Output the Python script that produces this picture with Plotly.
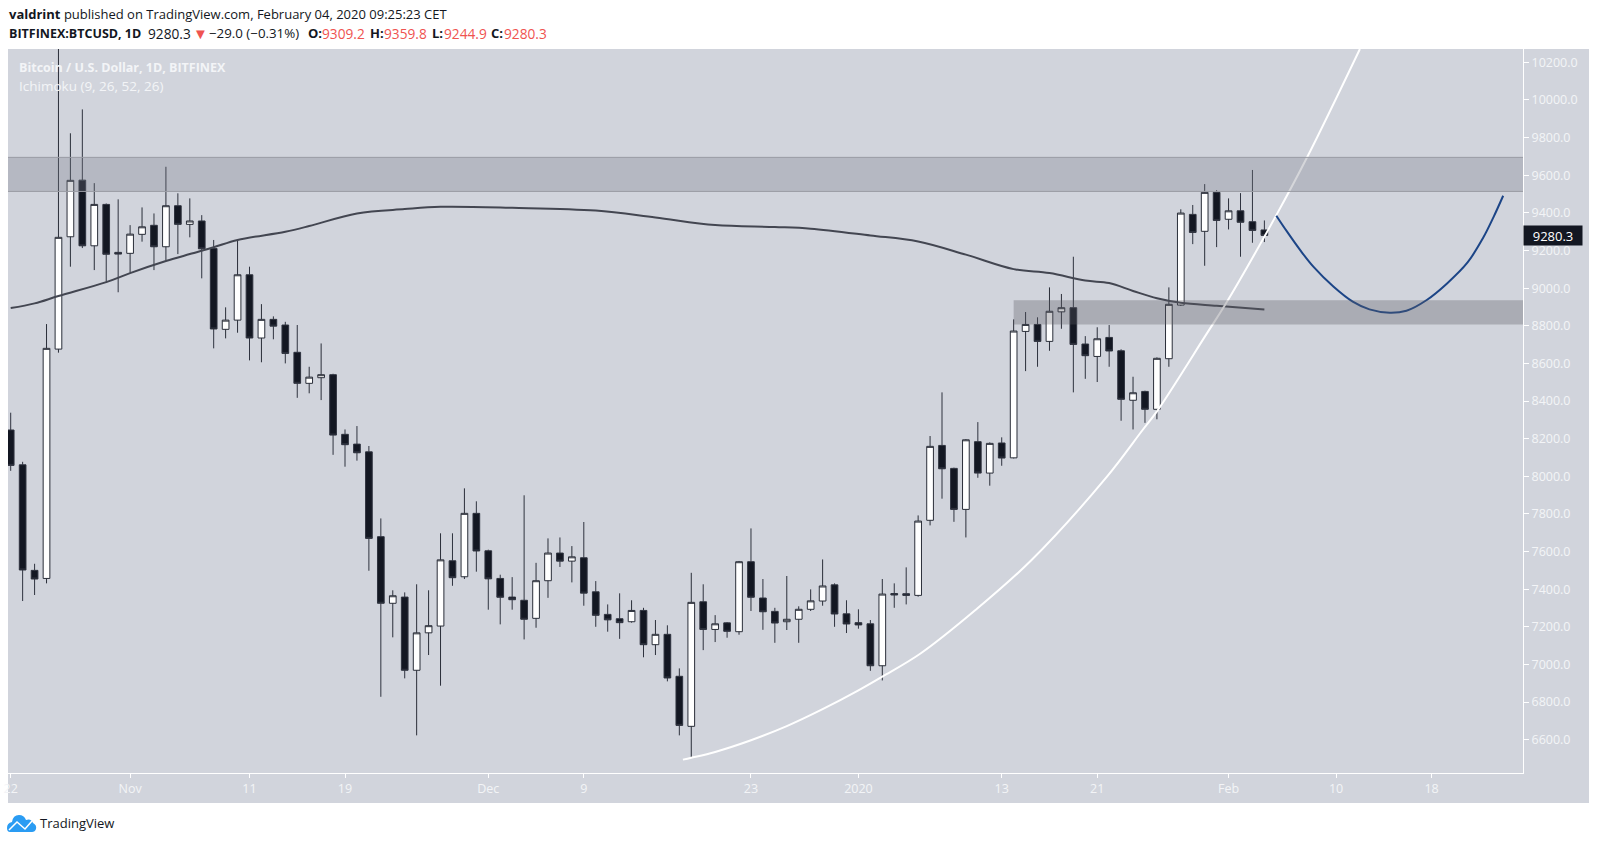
import plotly.graph_objects as go

# candles, one per day from 22 Oct 2019
opens = [8246, 8061, 7500, 7457, 8676, 9273, 9574, 9225, 9445, 9190, 9185, 9286, 9334, 9220, 9438, 9339, 9357, 9211,
         8781, 8830, 9071, 8735, 8834, 8804, 8659, 8494, 8524, 8540, 8223, 8171, 8130, 7679, 7325, 7358, 6969, 7168,
         7204, 7551, 7466, 7803, 7604, 7457, 7358, 7341, 7245, 7445, 7592, 7549, 7567, 7386, 7266, 7243, 7227, 7287,
         7105, 7160, 6937, 6671, 7333, 7186, 7221, 7174, 7546, 7353, 7282, 7227, 7240, 7293, 7337, 7423, 7269, 7222,
         7216, 6993, 7377, 7376, 7367, 7766, 8164, 8042, 7824, 8184, 8017, 8177, 8098, 8770, 8807, 8717, 8874, 8896,
         8703, 8637, 8738, 8667, 8404, 8451, 8356, 8625, 8910, 9392, 9302, 9509, 9366, 9411, 9353, 9309.2]
highs = [8338, 8077, 7535, 8809, 10350, 9823, 9950, 9558, 9450, 9472, 9335, 9429, 9397, 9645, 9504, 9477, 9388, 9256,
         8898, 9256, 9114, 8915, 8850, 8821, 8804, 8582, 8706, 8545, 8249, 8267, 8161, 7776, 7394, 7383, 7426, 7394,
         7697, 7697, 7936, 7867, 7610, 7477, 7464, 7899, 7540, 7670, 7675, 7629, 7757, 7443, 7319, 7378, 7341, 7301,
         7236, 7208, 6979, 7487, 7426, 7262, 7225, 7550, 7723, 7454, 7301, 7470, 7309, 7399, 7558, 7431, 7341, 7293,
         7236, 7454, 7431, 7516, 7792, 8214, 8446, 8046, 8198, 8288, 8180, 8207, 8834, 8873, 8845, 9004, 8969, 9167,
         8745, 8792, 8804, 8675, 8529, 8455, 8632, 9004, 9419, 9442, 9553, 9521, 9477, 9505, 9628, 9359.8]
lows = [8029, 7337, 7369, 7431, 8657, 9114, 9213, 9096, 9034, 8978, 9082, 9247, 9096, 9149, 9181, 9270, 9052, 8680,
        8733, 8763, 8616, 8606, 8728, 8600, 8417, 8441, 8405, 8114, 8051, 8083, 7498, 6828, 7144, 6926, 6623, 7050,
        6887, 7418, 7454, 7493, 7291, 7213, 7291, 7133, 7195, 7354, 7518, 7436, 7312, 7200, 7174, 7136, 7222, 7038,
        7050, 6910, 6623, 6506, 7076, 7119, 7142, 7158, 7284, 7184, 7115, 7183, 7115, 7284, 7312, 7200, 7167, 7190,
        6966, 6915, 7301, 7319, 7360, 7739, 7881, 7758, 7675, 7992, 7950, 8056, 8095, 8559, 8582, 8667, 8784, 8446,
        8518, 8501, 8582, 8295, 8249, 8284, 8303, 8582, 8905, 9234, 9119, 9218, 9312, 9167, 9241, 9244.9]
closes = [8058, 7502, 7454, 8680, 9270, 9573, 9225, 9445, 9180, 9181, 9287, 9326, 9220, 9438, 9339, 9357, 9209, 8783,
          8830, 9071, 8735, 8834, 8798, 8653, 8494, 8527, 8540, 8219, 8168, 8125, 7670, 7325, 7365, 6969, 7168, 7206,
          7556, 7461, 7803, 7603, 7455, 7357, 7344, 7240, 7445, 7592, 7549, 7572, 7379, 7261, 7237, 7222, 7287, 7105,
          7160, 6928, 6676, 7330, 7186, 7216, 7176, 7546, 7357, 7280, 7220, 7240, 7293, 7338, 7417, 7268, 7215, 7210,
          6993, 7374, 7369, 7367, 7762, 8159, 8040, 7824, 8194, 8017, 8175, 8097, 8772, 8807, 8717, 8877, 8896, 8701,
          8641, 8731, 8666, 8409, 8444, 8356, 8627, 8914, 9399, 9296, 9509, 9360, 9411, 9350, 9307, 9280.3]
days = list(range(len(closes)))

ma_days = [0, 2, 4, 8, 10, 13, 15, 17, 19, 23, 25, 29, 33, 36, 42, 49, 54, 59, 64, 67, 72, 76, 80, 84, 87, 90,
           92, 94, 96, 98, 101, 105]
ma_values = [8894, 8919, 8958, 9032, 9080, 9144, 9181, 9217, 9256, 9300, 9330, 9397, 9420, 9432, 9427, 9412,
             9375, 9335, 9325, 9316, 9280, 9248, 9178, 9101, 9080, 9040, 9027, 8985, 8946, 8922, 8906, 8887]

# hand drawn curves
white_days = [56.3, 57, 59, 62, 65, 68, 71, 73, 76.2, 80.8, 85.5, 91.8, 94.8, 96, 100.2, 101.7, 106, 108.6, 113]
white_values = [6494, 6504, 6535, 6597, 6672, 6762, 6862, 6935, 7058, 7289, 7555, 7997, 8246, 8345, 8761, 8910, 9388,
                9698, 10271]
blue_days = [106, 106.9, 108, 109.1, 110.8, 112.4, 113.8, 115.5, 116.9, 118.6, 120.3, 122, 123.3, 124.2, 125]
blue_values = [9385, 9300, 9202, 9114, 9007, 8928, 8887, 8869, 8880, 8937, 9025, 9135, 9265, 9379, 9491]

# zones: (low, high)
upper_zone = (9514, 9695)
lower_zone = (8807, 8935)
lower_zone_start = 84

tick_days = [0, 10, 20, 28, 40, 48, 62, 71, 83, 91, 102, 111, 119]
tick_labels = ["22", "Nov", "11", "19", "Dec", "9", "23", "2020", "13", "21", "Feb", "10", "18"]
price_ticks = list(range(6600, 10400, 200))
last_price = 9280.3

BG = "#d1d4dc"
DARK = "#131722"
PALE = "#f3f4f7"
RED = "#ef5350"
FONT = "Open Sans"
PLOT_L, PLOT_R, PLOT_T, PLOT_B = 8, 1523, 49, 773


def px(x):
    return (x - PLOT_L) / (PLOT_R - PLOT_L)


def py(y):
    return (PLOT_B - y) / (PLOT_B - PLOT_T)


def label(x, y, text, size=13, color=DARK):
    return dict(xref="paper", yref="paper", x=px(x), y=py(y), text=text, showarrow=False,
                xanchor="left", yanchor="middle", font=dict(family=FONT, size=size, color=color))


fig = go.Figure()

fig.add_trace(go.Candlestick(
    x=days, open=opens, high=highs, low=lows, close=closes,
    increasing=dict(fillcolor="#ffffff", line=dict(color="#2a2e39", width=1)),
    decreasing=dict(fillcolor=DARK, line=dict(color="#2f333f", width=1)),
    whiskerwidth=0, hoverinfo="skip"))
fig.add_trace(go.Scatter(x=ma_days, y=ma_values, mode="lines", line=dict(color="#434651", width=2, shape="spline")))
fig.add_trace(go.Scatter(x=white_days, y=white_values, mode="lines", line=dict(color="#ffffff", width=2, shape="spline")))
fig.add_trace(go.Scatter(x=blue_days, y=blue_values, mode="lines", line=dict(color="#1c4587", width=2, shape="spline")))

shapes = [
    # grey panel behind the axes
    dict(type="rect", xref="paper", yref="paper", x0=1, x1=px(1589), y0=py(49), y1=py(803),
         fillcolor=BG, line_width=0, layer="below"),
    dict(type="rect", xref="paper", yref="paper", x0=0, x1=1, y0=py(773), y1=py(803),
         fillcolor=BG, line_width=0, layer="below"),
    # zones
    dict(type="rect", xref="paper", yref="y", x0=0, x1=1, y0=upper_zone[0], y1=upper_zone[1],
         fillcolor="rgba(120,123,134,0.31)", line_width=0, layer="above"),
    dict(type="line", xref="paper", yref="y", x0=0, x1=1, y0=upper_zone[0], y1=upper_zone[0],
         line=dict(color="#9a9ca4", width=1), layer="above"),
    dict(type="line", xref="paper", yref="y", x0=0, x1=1, y0=upper_zone[1], y1=upper_zone[1],
         line=dict(color="#9a9ca4", width=1), layer="above"),
    dict(type="rect", xref="x", yref="y", x0=lower_zone_start, x1=127, y0=lower_zone[0], y1=lower_zone[1],
         fillcolor="rgba(90,92,100,0.33)", line_width=0, layer="above"),
    # TradingView logo
    dict(type="path", xref="paper", yref="paper", xsizemode="pixel", ysizemode="pixel",
         xanchor=px(0), yanchor=py(844), fillcolor="#2a9cf3", line_width=0,
         path="M 7,16 Q 7,21 12,22 Q 13,29 19,29 Q 24,29 26,24 Q 31,26 33,21 Q 37,19 36,15 Q 35,12 32,12 L 10,12 Q 7,12 7,16 Z"),
    dict(type="path", xref="paper", yref="paper", xsizemode="pixel", ysizemode="pixel",
         xanchor=px(0), yanchor=py(844), line=dict(color="#ffffff", width=1.5),
         path="M 9,14 L 17,22 L 25,15 L 32,23"),
]

annotations = [
    label(7, 14, "<b>valdrint</b> published on TradingView.com, February 04, 2020 09:25:23 CET", 13),
    label(7, 33, "<b>BITFINEX:BTCUSD, 1D</b>", 12.5),
    label(146, 33, "9280.3", 13.7),
    label(191, 33, "▼", 15, RED),
    label(207, 33, "−29.0 (−0.31%)", 13.3),
    label(306, 33, "<b>O:</b>", 13),
    label(320, 33, "9309.2", 13.7, RED),
    label(368, 33, "<b>H:</b>", 13),
    label(382, 33, "9359.8", 13.7, RED),
    label(430, 33, "<b>L:</b>", 13),
    label(442, 33, "9244.9", 13.7, RED),
    label(489, 33, "<b>C:</b>", 13),
    label(502, 33, "9280.3", 13.7, RED),
    label(17, 67, "<b>Bitcoin / U.S. Dollar, 1D, BITFINEX</b>", 12.5, PALE),
    label(17, 86, "Ichimoku (9, 26, 52, 26)", 13.5, PALE),
    label(38, 823, "TradingView", 13, DARK),
    dict(xref="paper", yref="y", x=1, y=last_price, text=f"{last_price:.1f}", showarrow=False,
         xanchor="left", yanchor="middle", width=56, height=17, bgcolor=DARK, align="center",
         font=dict(family=FONT, size=13, color="#ffffff")),
]

fig.update_layout(
    width=1597, height=844, autosize=False,
    margin=dict(l=PLOT_L, r=1597 - PLOT_R, t=PLOT_T, b=844 - PLOT_B, pad=0),
    paper_bgcolor="#ffffff", plot_bgcolor=BG,
    showlegend=False, boxgap=0.2, boxgroupgap=0.3,
    font=dict(family=FONT, size=12.5, color=PALE),
    xaxis=dict(range=[-0.226, 126.66], rangeslider_visible=False, showgrid=False, zeroline=False, automargin=False,
               tickmode="array", tickvals=tick_days, ticktext=tick_labels,
               ticks="outside", ticklen=4, tickcolor="#ffffff", showline=True, linecolor="#ffffff", linewidth=1),
    yaxis=dict(range=[6423, 10271], side="right", showgrid=False, zeroline=False, automargin=False,
               tickmode="array", tickvals=price_ticks, tickformat=".1f",
               ticks="outside", ticklen=5, tickcolor="#ffffff", showline=True, linecolor="#ffffff", linewidth=1),
    shapes=shapes, annotations=annotations,
)

fig.write_html("out.html", config={"displayModeBar": False},
               post_script="document.body.style.margin='0';document.documentElement.style.overflow='hidden';")
